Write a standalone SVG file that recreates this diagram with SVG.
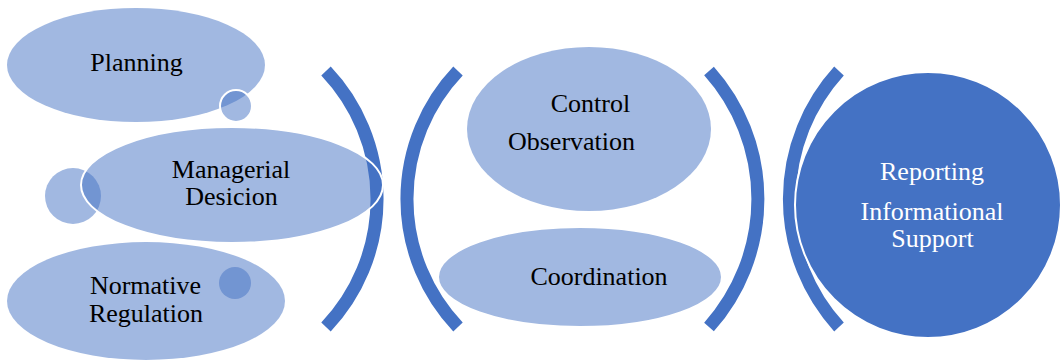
<svg xmlns="http://www.w3.org/2000/svg" width="1060" height="362" viewBox="0 0 1060 362">
<style>
.lt{fill:#4472C4;fill-opacity:0.5}
.ws{stroke:#FFFFFF;stroke-width:2}
.br{fill:none;stroke:#4472C4;stroke-width:13}
text{font-family:'Liberation Serif','DejaVu Serif',serif;font-size:26px;text-anchor:middle}
.t{fill:#000000}
.tw{fill:#FFFFFF}
</style>
<rect width="1060" height="362" fill="#FFFFFF"/>
<g id="brackets">
<path class="br" d="M 326 71 A 186 186 0 0 1 326 327"/>
<path class="br" d="M 458 71 A 186 186 0 0 0 458 327"/>
<path class="br" d="M 709 71 A 192 192 0 0 1 709 327"/>
<path class="br" d="M 839 71 A 190 190 0 0 0 839 327"/>
</g>
<g id="planning">
<ellipse class="lt" cx="136" cy="65" rx="129" ry="57"/>
<circle class="lt ws" cx="236" cy="106" r="16"/>
<text class="t" x="136.5" y="71" font-family="Liberation Serif, serif">Planning</text>
</g>
<g id="managerial-decision">
<circle class="lt" cx="73" cy="196" r="28"/>
<ellipse class="lt ws" cx="232" cy="185" rx="151" ry="58"/>
<text class="t" x="231" y="178" font-family="Liberation Serif, serif">Managerial</text>
<text class="t" x="231.5" y="205" font-family="Liberation Serif, serif">Desicion</text>
</g>
<g id="normative-regulation">
<ellipse class="lt" cx="146" cy="301" rx="139" ry="59"/>
<circle class="lt" cx="235" cy="283" r="16"/>
<text class="t" x="145.5" y="294" font-family="Liberation Serif, serif">Normative</text>
<text class="t" x="146" y="322" font-family="Liberation Serif, serif">Regulation</text>
</g>
<g id="control-observation">
<ellipse class="lt" cx="589" cy="129" rx="122" ry="82"/>
<text class="t" x="590.5" y="112" font-family="Liberation Serif, serif">Control</text>
<text class="t" x="571.5" y="150" font-family="Liberation Serif, serif">Observation</text>
</g>
<g id="coordination">
<ellipse class="lt ws" cx="580" cy="277" rx="142" ry="50"/>
<text class="t" x="599" y="285" font-family="Liberation Serif, serif">Coordination</text>
</g>
<g id="reporting">
<circle cx="928" cy="205" r="133" fill="#4472C4" stroke="#FFFFFF" stroke-width="2"/>
<text class="tw" x="932" y="180" font-family="Liberation Serif, serif">Reporting</text>
<text class="tw" x="932" y="220" font-family="Liberation Serif, serif">Informational</text>
<text class="tw" x="932.5" y="247" font-family="Liberation Serif, serif">Support</text>
</g>
</svg>
